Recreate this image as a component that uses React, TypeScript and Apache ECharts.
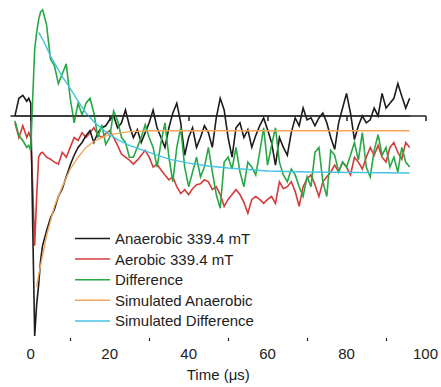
import React, { useEffect, useRef } from "react";
import * as echarts from "echarts";

// Time axis (µs) shared by the measured traces
const time = [-4, -3, -2, -1, -0.5, 0, 0.5, 1, 1.5, 2, 2.5, 3,
  4, 5, 6, 7, 8, 9, 10, 11, 12, 13, 14, 15, 16, 17, 18, 19, 20, 21, 22, 23, 24, 25, 26, 27, 28, 29, 30,
  31, 32, 33, 34, 35, 36, 37, 38, 39, 40, 41, 42, 43, 44, 45, 46, 47, 48, 49, 50,
  51, 52, 53, 54, 55, 56, 57, 58, 59, 60, 61, 62, 63, 64, 65, 66, 67, 68, 69, 70,
  71, 72, 73, 74, 75, 76, 77, 78, 79, 80, 81, 82, 83, 84, 85, 86, 87, 88, 89, 90,
  91, 92, 93, 94, 95, 96];

const anaerobic = [0, 18, 21, 15, 18, 13, -112, -224, -192, -172, -147, -132,
  -117, -104, -95, -82, -74, -62, -50, -40, -32, -27, -20, -15, -27, -17, -12, -10, -4, 0, -12, -7, 6, -10, -22, -14, -27, -17, -7,
  6, -12, -22, -32, -12, 3, 13, -7, -40, -22, -12, -32, -22, -10, -17, -32, -2, 18, 6, -22,
  -42, -12, -7, -22, -14, -32, -20, -10, -2, -14, -27, -50, -22, -32, -40, -17, -2, -10, 8, -4,
  -2, -10, -2, 3, -7, -22, -34, -7, 8, 23, 3, -24, -10, 0, -7, -4, 8, 0, 23, 8,
  13, 18, 33, 20, 8, 18];

const aerobic = [-7, -22, -10, -22, -17, -22, -72, -132, -82, -42, -38, -37,
  -42, -44, -47, -49, -37, -42, -32, -22, -25, -17, -22, -17, -12, -19, -22, -18, -15, -22, -30, -39, -42, -45, -49, -45, -40, -35, -42,
  -52, -49, -55, -60, -65, -62, -72, -79, -75, -80, -74, -70, -69, -65, -67, -75, -72, -80, -92, -85,
  -80, -75, -80, -88, -99, -85, -82, -85, -89, -85, -82, -89, -67, -74, -72, -67, -77, -92, -72, -64,
  -60, -70, -82, -67, -62, -57, -50, -57, -47, -52, -60, -42, -47, -54, -42, -32, -40, -30, -42, -47,
  -32, -27, -37, -44, -27, -32];

const difference = [-5, -20, -25, -32, -30, -35, 18, 68, 85, 98, 106, 108,
  93, 58, 51, 33, 43, 53, 18, -7, 13, 1, 13, 18, 3, -22, -9, -29, -22, 5, -5, -22, -27, -42, -42, -32, -22, -9, -22,
  -32, -52, -27, -7, -42, -67, -32, -12, -52, -72, -57, -42, -62, -52, -32, -57, -80, -94, -47, -42,
  -54, -32, -57, -72, -47, -52, -60, -37, -12, -50, -30, -12, -47, -60, -67, -54, -60, -72, -82, -62,
  -72, -37, -32, -67, -82, -35, -40, -57, -47, -52, -40, -27, -45, -17, -52, -62, -35, -19, -40, -32,
  -52, -42, -57, -32, -47, -52];

// Simulated curves
const simAnaTime = [1.5, 2, 3, 4, 5, 6, 8, 10, 12, 14, 16, 18, 20, 25, 30, 96];
const simAnaerobic = [-174, -162, -142, -122, -107, -92, -72, -54, -42, -32, -26, -22, -19, -16, -15, -15];

const simDiffTime = [2, 3, 4, 5, 6, 8, 10, 12, 14, 16, 18, 20, 22, 25, 30, 35, 40, 45, 50, 60, 70, 96];
const simDifference = [85, 78, 70, 61, 54, 40, 28, 15, 3, -6, -13, -19, -24, -30, -37, -44, -48, -51, -53, -56, -57, -58];

// Zero baseline
const baselineTime = [-4, 96];
const baseline = [0, 0];

const majorTicks = [0, 20, 40, 60, 80, 100];
const minorTicks = [10, 30, 50, 70, 90];

const names = ["Anaerobic 339.4 mT", "Aerobic 339.4 mT", "Difference", "Simulated Anaerobic", "Simulated Difference"];

const zip = (xs: number[], ys: number[]) => xs.map((x, i) => [x, ys[i]]);

const FONT = "'Liberation Sans', Arial, sans-serif";

export default function App() {
  const ref = useRef<HTMLDivElement>(null);
  useEffect(() => {
    if (!ref.current) return;
    const chart = echarts.init(ref.current, undefined, { renderer: "svg" });
    const lineS = (name: string, data: number[][], color: string, width: number, z: number) => ({
      name,
      type: "line",
      data,
      showSymbol: false,
      symbol: "none",
      lineStyle: { color, width, join: "miter" },
      itemStyle: { color },
      z,
      silent: true,
    });
    chart.setOption({
      animation: false,
      textStyle: { fontFamily: FONT },
      grid: { left: 11, right: 14, top: 0, bottom: 43, containLabel: false },
      legend: {
        data: names,
        orient: "vertical",
        left: 75,
        top: 231,
        padding: 0,
        icon: "rect",
        itemWidth: 35,
        itemHeight: 1.5,
        itemGap: 5.6,
        textStyle: { fontSize: 15, lineHeight: 14, color: "#222", fontFamily: FONT },
        selectedMode: false,
      },
      xAxis: [
        {
          type: "value",
          min: -5,
          max: 100,
          splitLine: { show: false },
          axisLine: { show: true, lineStyle: { color: "#222", width: 1.5 } },
          axisTick: { show: true, customValues: majorTicks, length: 5, lineStyle: { color: "#222", width: 1.5 } },
          axisLabel: { customValues: majorTicks, fontSize: 15, color: "#222", margin: 8, fontFamily: FONT },
          name: "Time (μs)",
          nameLocation: "middle",
          nameGap: 29,
          nameTextStyle: { fontSize: 15, color: "#222", fontFamily: FONT },
        },
        {
          type: "value",
          min: -5,
          max: 100,
          position: "bottom",
          splitLine: { show: false },
          axisLine: { show: false },
          axisTick: { show: true, customValues: minorTicks, length: 3, lineStyle: { color: "#222", width: 1.2 } },
          axisLabel: { show: false },
        },
      ],
      yAxis: { type: "value", min: -226, max: 118, show: false },
      series: [
        lineS(names[1], zip(time, aerobic), "#d43b3b", 1.6, 2),
        lineS(names[0], zip(time, anaerobic), "#1c1c1c", 1.6, 3),
        lineS(names[2], zip(time, difference), "#27a844", 1.6, 4),
        lineS(names[3], zip(simAnaTime, simAnaerobic), "#f3a55a", 1.4, 5),
        lineS(names[4], zip(simDiffTime, simDifference), "#45c3e3", 1.4, 6),
        lineS("baseline", zip(baselineTime, baseline), "#222", 1, 7),
      ],
    });
    return () => chart.dispose();
  }, []);
  return <div ref={ref} style={{ position: "absolute", left: 0, top: 0, width: 441, height: 387 }} />;
}
